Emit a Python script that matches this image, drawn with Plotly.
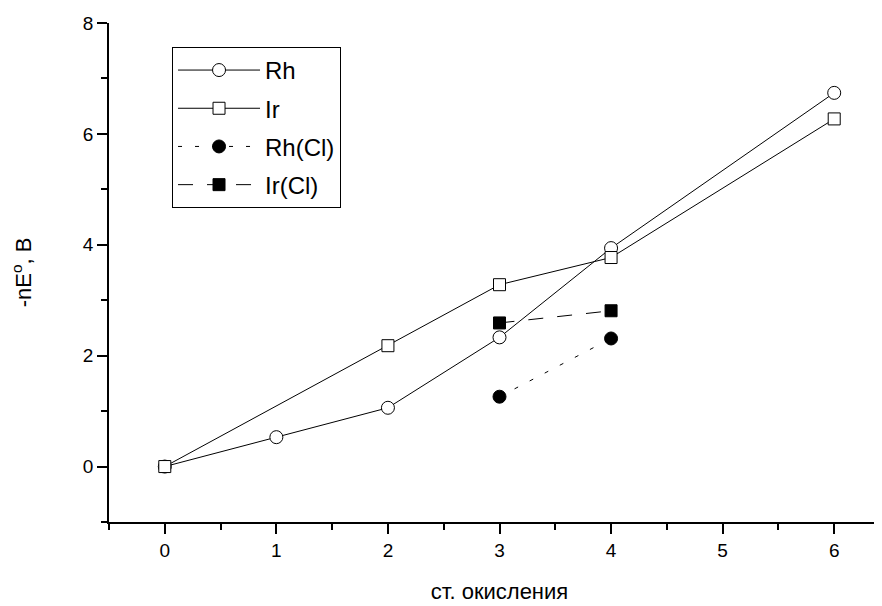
import plotly.graph_objects as go

rh_x = [0, 1, 2, 3, 4, 6]
rh_y = [0, 0.53, 1.06, 2.33, 3.94, 6.74]
ir_x = [0, 2, 3, 4, 6]
ir_y = [0, 2.18, 3.28, 3.77, 6.27]
rhcl_x = [3, 4]
rhcl_y = [1.26, 2.31]
ircl_x = [3, 4]
ircl_y = [2.59, 2.81]

FONT = "Liberation Sans Narrow, Arial Narrow, Liberation Sans, Arial, sans-serif"

fig = go.Figure()
fig.add_trace(go.Scatter(x=rh_x, y=rh_y, name="Rh", mode="lines+markers", legendgroup="a",
                         line=dict(color="black", width=1),
                         marker=dict(symbol="circle", size=13, color="white",
                                     line=dict(color="black", width=1))))
fig.add_trace(go.Scatter(x=ir_x, y=ir_y, name="Ir", mode="lines+markers", legendgroup="b",
                         line=dict(color="black", width=1),
                         marker=dict(symbol="square", size=12, color="white",
                                     line=dict(color="black", width=1))))
fig.add_trace(go.Scatter(x=rhcl_x, y=rhcl_y, name="Rh(Cl)", mode="lines+markers", legendgroup="c",
                         line=dict(color="black", width=1, dash="4px,13px"),
                         marker=dict(symbol="circle", size=13, color="black",
                                     line=dict(color="black", width=1))))
fig.add_trace(go.Scatter(x=ircl_x, y=ircl_y, name="Ir(Cl)", mode="lines+markers", legendgroup="d",
                         line=dict(color="black", width=1, dash="15px,14px"),
                         marker=dict(symbol="square", size=12, color="black",
                                     line=dict(color="black", width=1))))

fig.update_layout(
    width=882, height=606,
    margin=dict(l=101, r=0, t=15, b=92),
    paper_bgcolor="white", plot_bgcolor="white",
    font=dict(family=FONT, color="black", size=16),
    showlegend=True,
    legend=dict(x=0.0807, y=0.952, xanchor="left", yanchor="top",
                bordercolor="black", borderwidth=1, bgcolor="white",
                font=dict(size=24, family=FONT),
                itemwidth=82, tracegroupgap=4,
                traceorder="grouped"),
    xaxis=dict(range=[-0.5, 6.5], showgrid=False, zeroline=False,
               showline=True, linecolor="black", linewidth=1.5,
               ticks="outside", ticklen=10, tickwidth=1.5, tickcolor="black",
               tickvals=[0, 1, 2, 3, 4, 5, 6],
               tickfont=dict(family="Liberation Sans, Arial", size=19),
               minor=dict(ticks="outside", ticklen=6, tickwidth=1.5, tickcolor="black", dtick=0.5),
               title=dict(text="ст. окисления", font=dict(size=22, family=FONT), standoff=24)),
    yaxis=dict(range=[-1, 8], showgrid=False, zeroline=False,
               showline=True, linecolor="black", linewidth=1.5,
               ticks="outside", ticklen=10, tickwidth=1.5, tickcolor="black",
               tickvals=[0, 2, 4, 6, 8],
               tickfont=dict(family="Liberation Sans, Arial", size=19),
               minor=dict(ticks="outside", ticklen=6, tickwidth=1.5, tickcolor="black", dtick=1),
               title=dict(text="-nE<sup>o</sup>, В", font=dict(size=22, family=FONT), standoff=45)),
)

fig.write_html("out.html")
